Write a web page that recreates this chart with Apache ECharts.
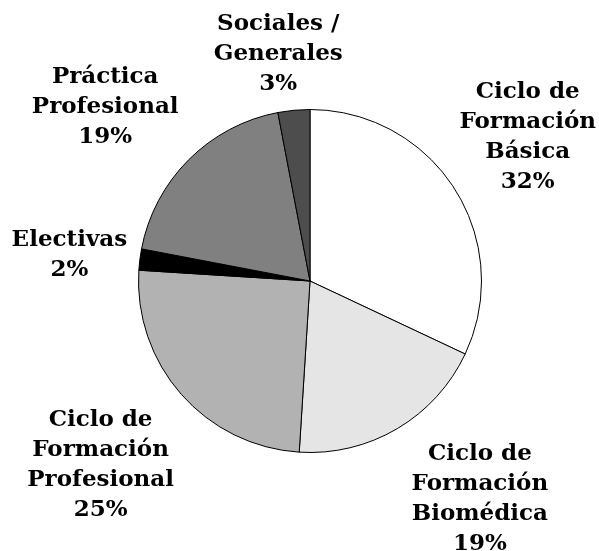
<!DOCTYPE html>
<html>
  <head>
    <meta charset="utf-8" />
    <style>
      html, body { margin: 0; background: #fff; }
      #chart { width: 599px; height: 551px; }
    </style>
  </head>
  <body>
    <div id="chart"></div>
    <script src="https://cdn.jsdelivr.net/npm/echarts@6/dist/echarts.min.js"></script>
    <script>
      // categorías, desde las 12 en sentido horario
      var categories = [
        "Ciclo de\nFormación\nBásica",
        "Ciclo de\nFormación\nBiomédica",
        "Ciclo de\nFormación\nProfesional",
        "Electivas",
        "Práctica\nProfesional",
        "Sociales /\nGenerales"
      ];
      // porcentajes
      var values = [32, 19, 25, 2, 19, 3];
      var colors = ["#ffffff", "#e5e5e5", "#b2b2b2", "#000000", "#808080", "#4d4d4d"];

      var cx = 310, cy = 281, radius = 171.5, gap = 9;
      var W = 599, H = 551;
      // pequeños ajustes a mano de las etiquetas [dx, dy]
      var labelNudge = [[-3, 1], [34, 2], [-3, 2], [-1, 4], [-18, 13], [-10, 3]];
      var total = values.reduce(function (s, v) { return s + v; }, 0);

      // angulo medio del sector (radianes, desde arriba, horario)
      function midAngle(i) {
        var before = 0;
        for (var k = 0; k < i; k++) before += values[k];
        return (before + values[i] / 2) / total * Math.PI * 2;
      }

      var data = categories.map(function (name, i) {
        return { name: name, value: values[i], itemStyle: { color: colors[i] } };
      });

      var myChart = echarts.init(document.getElementById("chart"));
      var option = {
        animation: false,
        series: [
          {
            type: "pie",
            center: [cx, cy],
            radius: radius,
            startAngle: 90,
            clockwise: true,
            avoidLabelOverlap: false,
            itemStyle: { borderColor: "#000", borderWidth: 1 },
            emphasis: { disabled: true },
            labelLine: { show: false },
            label: {
              show: true,
              position: "outside",
              fontFamily: "DejaVu Serif",
              fontWeight: "bold",
              fontSize: 23,
              lineHeight: 30,
              color: "#000",
              formatter: function (p) {
                return p.name + "\n" + p.value + "%";
              }
            },
            labelLayout: function (p) {
              var i = p.dataIndex;
              var a = midAngle(i);
              var dx = Math.sin(a), dy = -Math.cos(a);
              var w = p.labelRect.width, h = p.labelRect.height;
              var t = radius + gap + Math.abs(dx) * w / 2 + Math.abs(dy) * h / 2;
              var x = cx + t * dx, y = cy + t * dy;
              x = Math.min(Math.max(x, w / 2), W - w / 2);
              y = Math.min(Math.max(y, h / 2), H - h / 2 + 6);
              return {
                x: x + labelNudge[i][0],
                y: y + labelNudge[i][1],
                align: "center",
                verticalAlign: "middle"
              };
            },
            data: data
          }
        ]
      };
      myChart.setOption(option);
    </script>
  </body>
</html>
